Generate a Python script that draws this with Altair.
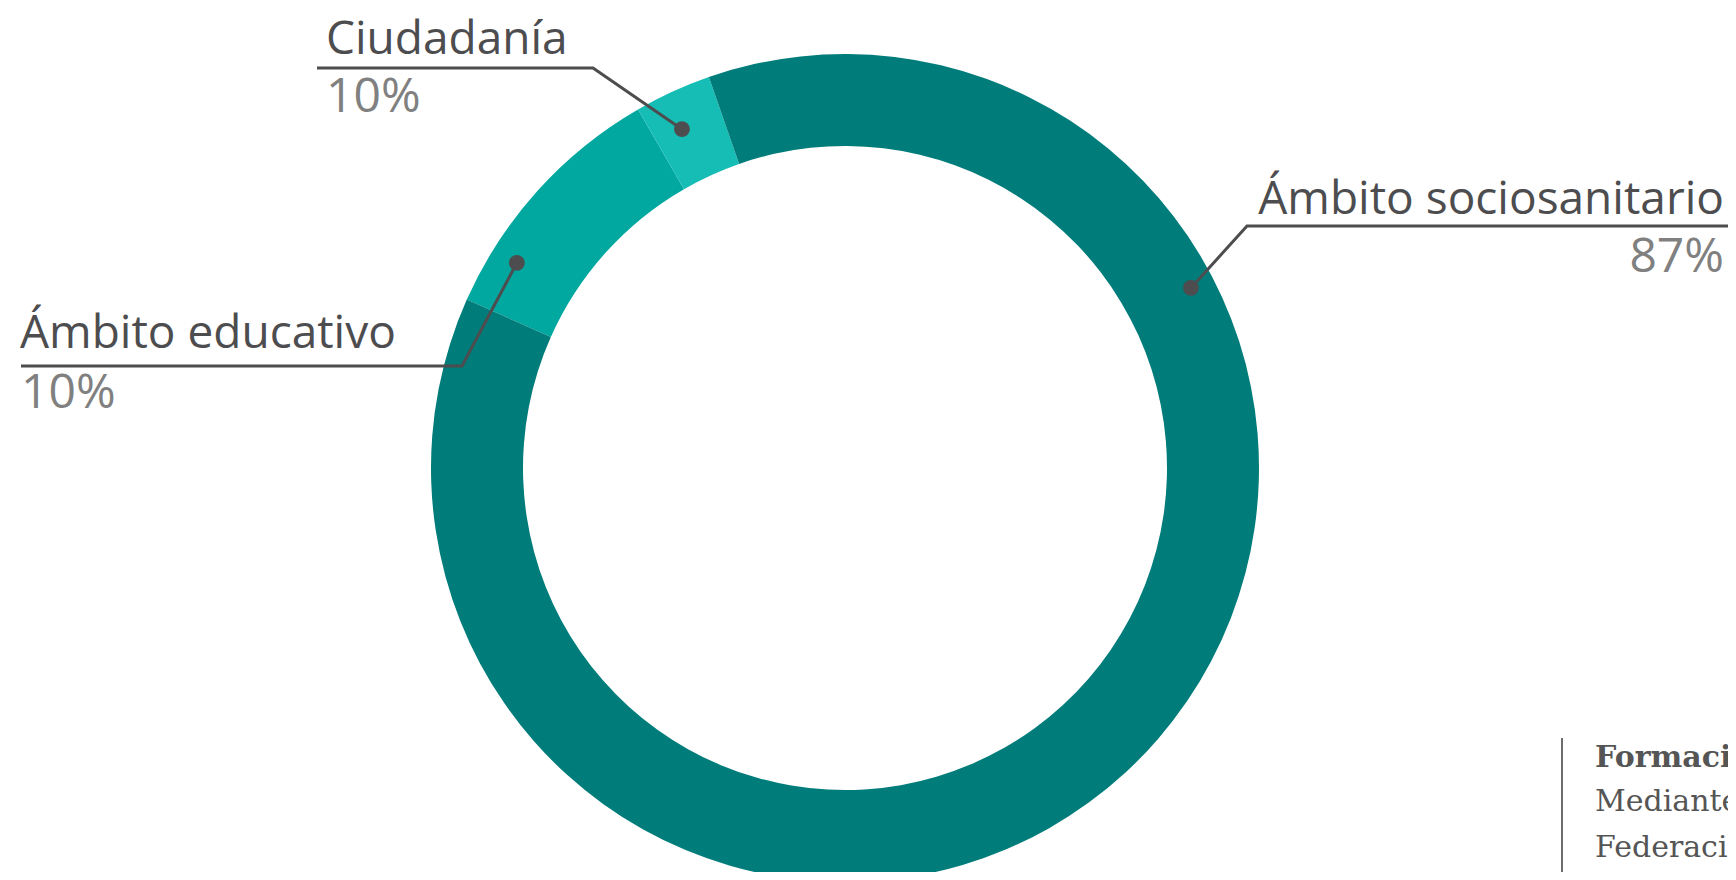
import math
import altair as alt
import pandas as pd

# ---------------- data ----------------
categories = ["Ámbito educativo", "Ciudadanía", "Ámbito sociosanitario"]
values = [10, 3, 87]
pct_labels = ["10%", "10%", "87%"]
colors = ["#00a89f", "#16bdb5", "#007c7a"]

note_title = "Formación especializada"
note_lines = ["Mediante convenios con la", "Federación de asociaciones"]

# ---------------- layout (pixels) ----------------
W, H = 1720, 864
CX, CY = 837, 460
R_OUT, R_IN = 414, 322
START_DEG = 294

# label anchor: dot (angle deg from top, radius), elbow, underline end, text anchors
label_layout = {
    "Ciudadanía": dict(ang=-25.7, r=376, elbow=(585, 60), end=(309, 60),
                       name=(318, 46), pct=(318, 104), align="left"),
    "Ámbito educativo": dict(ang=-58.0, r=387, elbow=(454, 358), end=(13, 358),
                             name=(12, 340), pct=(13, 400), align="left"),
    "Ámbito sociosanitario": dict(ang=62.5, r=390, elbow=(1239, 218), end=(1720, 218),
                                  name=(1716, 206), pct=(1716, 264), align="right"),
}

DARK = "#4d4d4f"
GREY = "#808080"

# ---------------- tables ----------------
arc_df = pd.DataFrame({"cat": categories, "value": values, "rank": list(range(len(categories)))})

dot_rows, line_rows, name_rows, pct_rows = [], [], [], []
for cat, pct in zip(categories, pct_labels):
    L = label_layout[cat]
    a = math.radians(L["ang"])
    dx, dy = CX + L["r"] * math.sin(a), CY - L["r"] * math.cos(a)
    dot_rows.append({"cat": cat, "px": dx, "py": dy})
    for i, (px, py) in enumerate([(dx, dy), L["elbow"], L["end"]]):
        line_rows.append({"cat": cat, "idx": i, "px": px, "py": py})
    name_rows.append({"cat": cat, "px": L["name"][0], "py": L["name"][1], "text": cat, "align": L["align"]})
    pct_rows.append({"cat": cat, "px": L["pct"][0], "py": L["pct"][1], "text": pct, "align": L["align"]})

dots = pd.DataFrame(dot_rows)
lines = pd.DataFrame(line_rows)
names = pd.DataFrame(name_rows)
pcts = pd.DataFrame(pct_rows)

note_title_df = pd.DataFrame({"px": [1587], "py": [759], "text": [note_title]})
note_df = pd.DataFrame({"px": [1587, 1587], "py": [803, 849], "text": note_lines})
note_rule = pd.DataFrame({"px": [1554], "py": [730], "py2": [H]})

xs = alt.Scale(domain=[0, W], range=[0, W], nice=False, zero=False)
ys = alt.Scale(domain=[0, H], range=[0, H], nice=False, zero=False)
X = alt.X("px:Q", scale=xs, axis=None)
Y = alt.Y("py:Q", scale=ys, axis=None)

donut = alt.Chart(arc_df).mark_arc(innerRadius=R_IN, outerRadius=R_OUT).encode(
    theta=alt.Theta("value:Q", stack=True,
                    scale=alt.Scale(range=[math.radians(START_DEG), math.radians(START_DEG) + 2 * math.pi])),
    color=alt.Color("cat:N", scale=alt.Scale(domain=categories, range=colors), legend=None),
    order=alt.Order("rank:Q"),
    x=alt.value(CX),
    y=alt.value(CY),
)

leaders = alt.Chart(lines).mark_line(color=DARK, strokeWidth=3, strokeJoin="miter").encode(
    x=X, y=Y, detail="cat:N", order="idx:Q"
)

dot_layer = alt.Chart(dots).mark_circle(color=DARK, size=250, opacity=1).encode(x=X, y=Y)

def text_layer(df, align, color, size=46, **kw):
    return alt.Chart(df).transform_filter(alt.datum.align == align).mark_text(
        align=align, baseline="alphabetic", font="Open Sans", fontSize=size, color=color, **kw
    ).encode(x=X, y=Y, text="text:N")

name_l = text_layer(names, "left", DARK)
name_r = text_layer(names, "right", DARK)
pct_l = text_layer(pcts, "left", GREY, size=48)
pct_r = text_layer(pcts, "right", GREY, size=48)

rule = alt.Chart(note_rule).mark_rule(color="#6d6d6d", strokeWidth=2).encode(
    x=X, y=Y, y2="py2:Q"
)
note_t = alt.Chart(note_title_df).mark_text(
    align="left", baseline="alphabetic", font="DejaVu Serif", fontSize=30, fontWeight="bold",
    color="#555555", clip=True
).encode(x=X, y=Y, text="text:N")
note_b = alt.Chart(note_df).mark_text(
    align="left", baseline="alphabetic", font="DejaVu Serif", fontSize=30,
    color="#555555", clip=True
).encode(x=X, y=Y, text="text:N")

chart = alt.layer(
    donut, leaders, dot_layer, name_l, name_r, pct_l, pct_r, rule, note_t, note_b
).properties(
    width=W, height=H, padding=0,
    autosize=alt.AutoSizeParams(type="none"),
    background="white",
).configure_view(stroke=None)

chart.save("out.html", embed_options={"renderer": "svg", "actions": False})
